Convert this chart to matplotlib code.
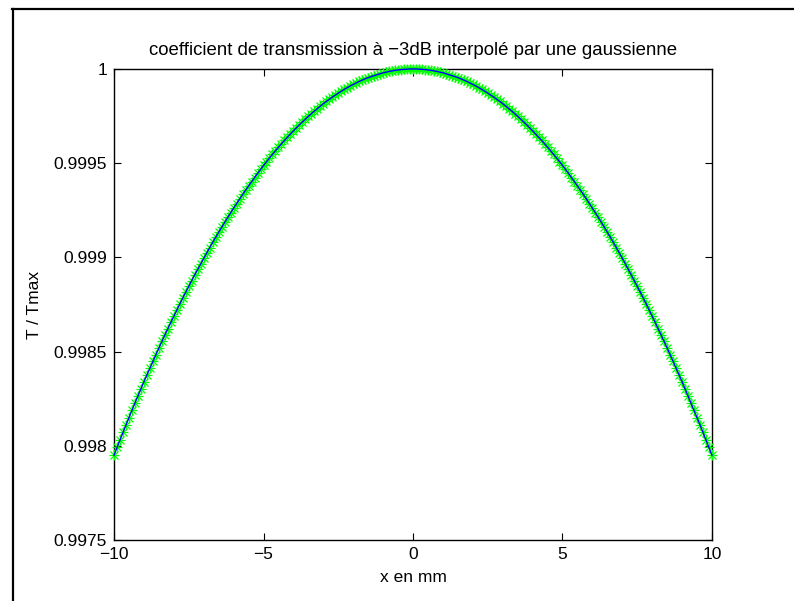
import numpy as np
import matplotlib
matplotlib.use("Agg")
import matplotlib.pyplot as plt
from matplotlib.lines import Line2D

plt.rcParams["font.family"] = ["Liberation Sans", "DejaVu Sans"]
plt.rcParams["font.size"] = 12

# x positions in mm (step 0.1 mm)
x_mm = np.round(np.arange(-100, 101) / 10.0, 1)

# T / Tmax, from x = -10 to x = 10
t_ratio = [
    0.997950, 0.997991, 0.998031, 0.998071, 0.998111, 0.998150, 0.998189, 0.998227, 0.998265, 0.998302,
    0.998340, 0.998376, 0.998412, 0.998448, 0.998484, 0.998519, 0.998554, 0.998588, 0.998622, 0.998655,
    0.998688, 0.998721, 0.998753, 0.998785, 0.998816, 0.998847, 0.998877, 0.998908, 0.998937, 0.998967,
    0.998996, 0.999024, 0.999052, 0.999080, 0.999107, 0.999134, 0.999160, 0.999186, 0.999212, 0.999237,
    0.999262, 0.999286, 0.999310, 0.999334, 0.999357, 0.999380, 0.999402, 0.999424, 0.999446, 0.999467,
    0.999488, 0.999508, 0.999528, 0.999547, 0.999566, 0.999585, 0.999603, 0.999621, 0.999638, 0.999655,
    0.999672, 0.999688, 0.999704, 0.999719, 0.999734, 0.999749, 0.999763, 0.999777, 0.999790, 0.999803,
    0.999816, 0.999828, 0.999839, 0.999851, 0.999861, 0.999872, 0.999882, 0.999892, 0.999901, 0.999910,
    0.999918, 0.999926, 0.999934, 0.999941, 0.999948, 0.999954, 0.999960, 0.999965, 0.999970, 0.999975,
    0.999980, 0.999983, 0.999987, 0.999990, 0.999993, 0.999995, 0.999997, 0.999998, 0.999999, 1.000000,
    1.000000,
    1.000000, 0.999999, 0.999998, 0.999997, 0.999995, 0.999993, 0.999990, 0.999987, 0.999983, 0.999980,
    0.999975, 0.999970, 0.999965, 0.999960, 0.999954, 0.999948, 0.999941, 0.999934, 0.999926, 0.999918,
    0.999910, 0.999901, 0.999892, 0.999882, 0.999872, 0.999861, 0.999851, 0.999839, 0.999828, 0.999816,
    0.999803, 0.999790, 0.999777, 0.999763, 0.999749, 0.999734, 0.999719, 0.999704, 0.999688, 0.999672,
    0.999655, 0.999638, 0.999621, 0.999603, 0.999585, 0.999566, 0.999547, 0.999528, 0.999508, 0.999488,
    0.999467, 0.999446, 0.999424, 0.999402, 0.999380, 0.999357, 0.999334, 0.999310, 0.999286, 0.999262,
    0.999237, 0.999212, 0.999186, 0.999160, 0.999134, 0.999107, 0.999080, 0.999052, 0.999024, 0.998996,
    0.998967, 0.998937, 0.998908, 0.998877, 0.998847, 0.998816, 0.998785, 0.998753, 0.998721, 0.998688,
    0.998655, 0.998622, 0.998588, 0.998554, 0.998519, 0.998484, 0.998448, 0.998412, 0.998376, 0.998340,
    0.998302, 0.998265, 0.998227, 0.998189, 0.998150, 0.998111, 0.998071, 0.998031, 0.997991, 0.997950,
]

x_ticks = [-10, -5, 0, 5, 10]
x_labels = ["\u221210", "\u22125", "0", "5", "10"]
y_ticks = [0.9975, 0.998, 0.9985, 0.999, 0.9995, 1.0]
y_labels = ["0.9975", "0.998", "0.9985", "0.999", "0.9995", "1"]

fig = plt.figure(figsize=(7.94, 6.01), dpi=100)
ax = fig.add_axes([0.1436, 0.1015, 0.7531, 0.7837])

# MATLAB-like asterisk: '+' and 'x' drawn on top of each other
ax.plot(x_mm, t_ratio, linestyle="none", marker="+", markersize=7,
        markeredgewidth=0.9, color=(0, 1, 0), clip_on=False, zorder=3)
ax.plot(x_mm, t_ratio, linestyle="none", marker="x", markersize=5.5,
        markeredgewidth=0.9, color=(0, 1, 0), clip_on=False, zorder=3)
ax.plot(x_mm, t_ratio, "-", color=(0, 0, 1), linewidth=1.0, clip_on=False, zorder=4)

ax.set_xlim(-10, 10)
ax.set_ylim(0.9975, 1.0)
ax.set_xticks(x_ticks)
ax.set_xticklabels(x_labels)
ax.set_yticks(y_ticks)
ax.set_yticklabels(y_labels)
ax.tick_params(direction="in", top=True, right=True, length=5, width=0.8,
               labelsize=12.5, pad=5)
for s in ax.spines.values():
    s.set_linewidth(1.0)
    s.set_zorder(2.5)

ax.set_title("coefficient de transmission à \u22123dB interpolé par une gaussienne",
             fontsize=13.4, pad=10)
ax.set_xlabel("x en mm", fontsize=12.5, labelpad=6)
ax.set_ylabel("T / Tmax", fontsize=12.5, labelpad=8)

# partial frame around the figure
fig.add_artist(Line2D([12 / 794, 1.0], [1 - 8.5 / 601, 1 - 8.5 / 601],
                      transform=fig.transFigure, color="black", linewidth=1.6))
fig.add_artist(Line2D([12.5 / 794, 12.5 / 794], [0.0, 1 - 8.5 / 601],
                      transform=fig.transFigure, color="black", linewidth=1.6))

fig.savefig("out.png", dpi=100)
